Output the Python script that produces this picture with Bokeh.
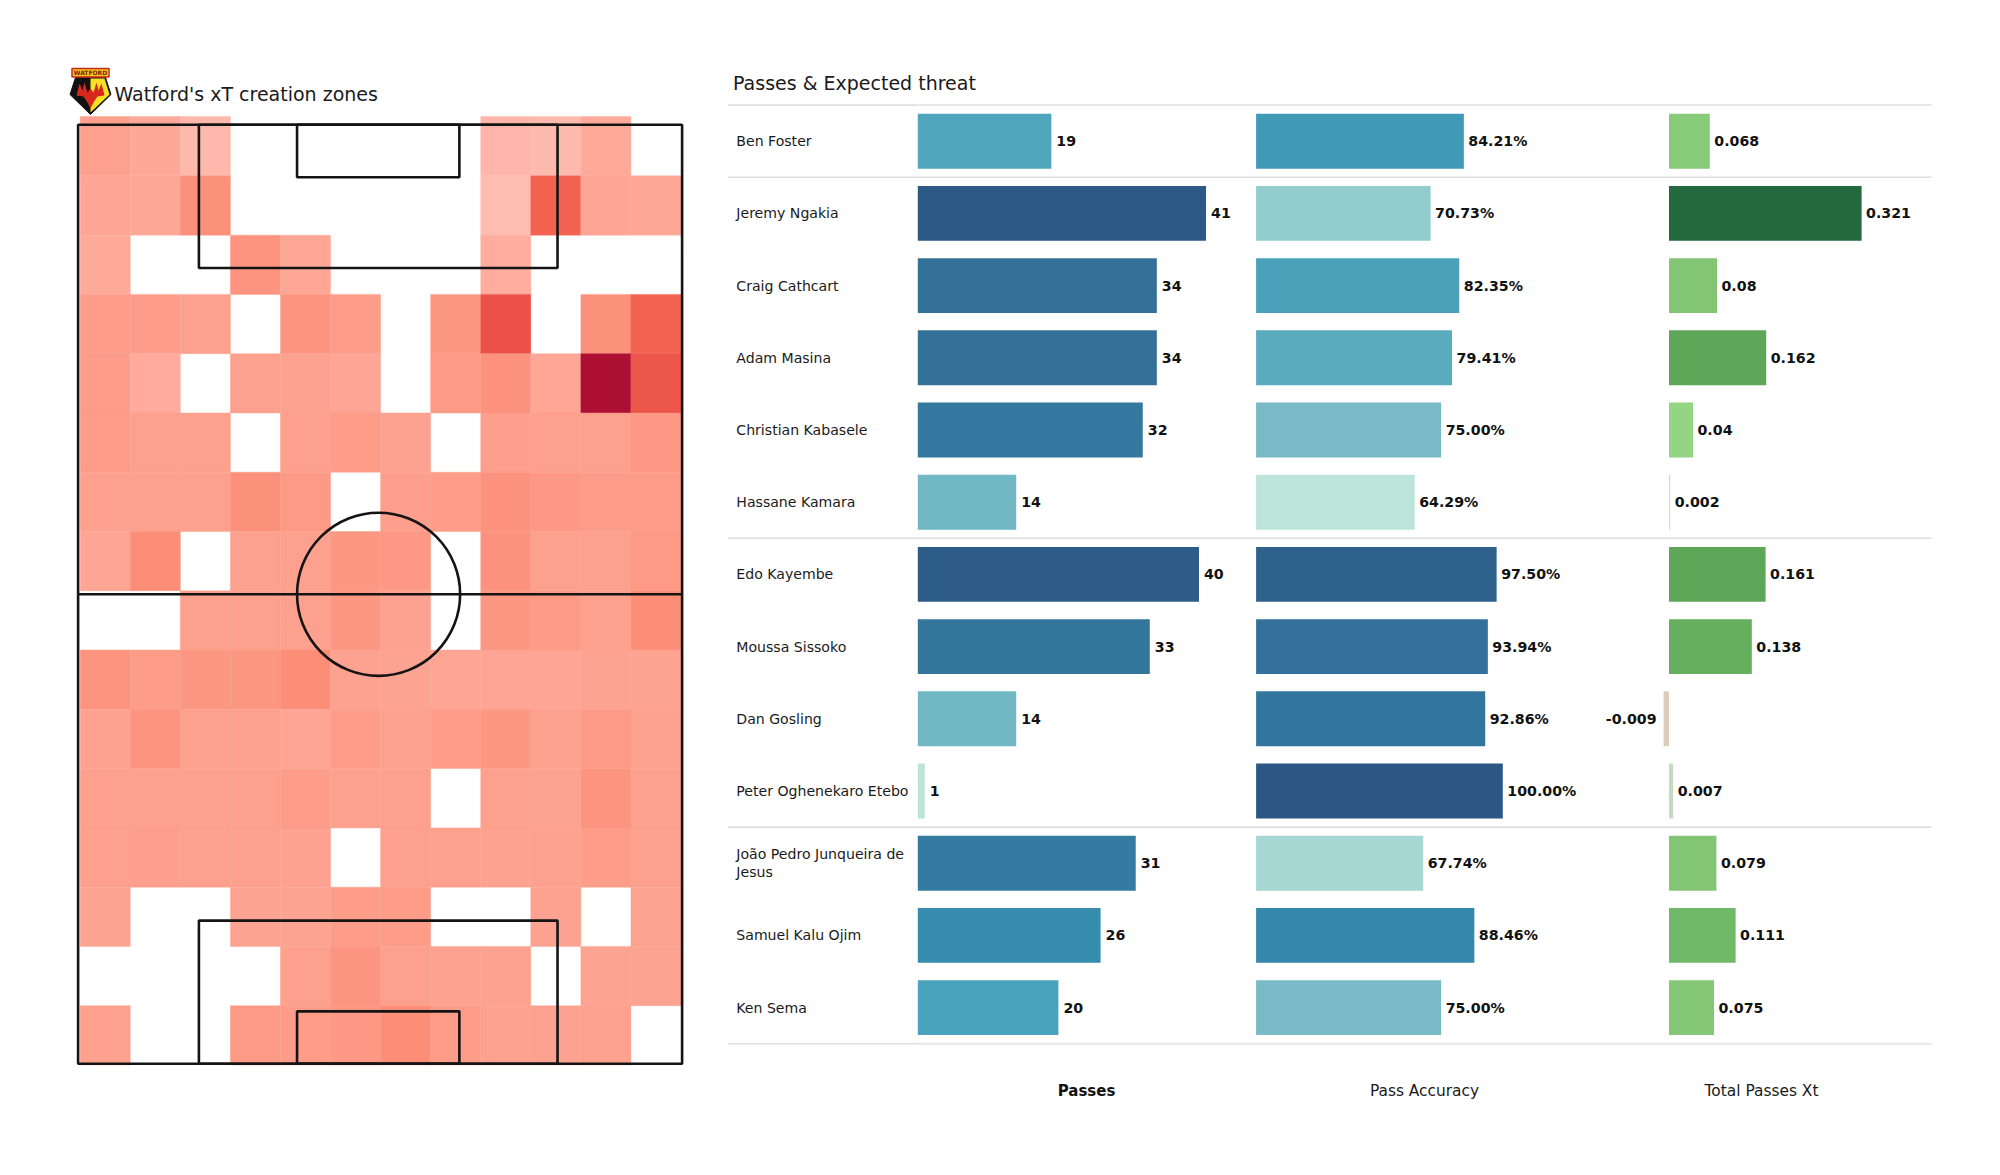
from bokeh.plotting import figure
from bokeh.models import Range1d, ColumnDataSource, LinearColorMapper
from bokeh.core.properties import value
from bokeh.embed import file_html
from bokeh.resources import INLINE
import numpy as np

# ---------------- data ----------------
players = ["Ben Foster", "Jeremy Ngakia", "Craig Cathcart", "Adam Masina", "Christian Kabasele",
           "Hassane Kamara", "Edo Kayembe", "Moussa Sissoko", "Dan Gosling", "Peter Oghenekaro Etebo",
           "João Pedro Junqueira de\nJesus", "Samuel Kalu Ojim", "Ken Sema"]
passes = [19, 41, 34, 34, 32, 14, 40, 33, 14, 1, 31, 26, 20]
accuracy = [84.21, 70.73, 82.35, 79.41, 75.00, 64.29, 97.50, 93.94, 92.86, 100.00, 67.74, 88.46, 75.00]
total_xt = [0.068, 0.321, 0.08, 0.162, 0.04, 0.002, 0.161, 0.138, -0.009, 0.007, 0.079, 0.111, 0.075]
xt_labels = ["0.068", "0.321", "0.08", "0.162", "0.04", "0.002", "0.161", "0.138", "-0.009", "0.007", "0.079", "0.111", "0.075"]
column_titles = ["Passes", "Pass Accuracy", "Total Passes Xt"]
n = None
heat = [
    [.20, .15, .05, n, n, n, n, n, .07, .04, .14, n],
    [.17, .15, .30, n, n, n, n, n, .02, .60, .17, .15],
    [.14, n, n, .28, .16, n, n, n, .12, n, n, n],
    [.22, .22, .20, n, .28, .23, n, .26, .70, n, .30, .60],
    [.22, .13, n, .20, .19, .17, n, .24, .29, .16, 1.0, .67],
    [.23, .20, .20, n, .20, .23, .19, n, .21, .20, .20, .25],
    [.20, .20, .20, .30, .24, n, .21, .22, .29, .25, .23, .23],
    [.17, .33, n, .20, .20, .26, .25, n, .29, .20, .20, .24],
    [n, n, .20, .20, .20, .26, .19, n, .26, .24, .20, .33],
    [.28, .22, .26, .26, .33, .19, .18, .17, .17, .17, .18, .18],
    [.19, .28, .20, .20, .17, .22, .20, .22, .26, .20, .24, .20],
    [.20, .20, .20, .20, .23, .20, .20, n, .20, .18, .28, .20],
    [.20, .21, .20, .20, .19, n, .20, .20, .19, .19, .22, .20],
    [.18, n, n, .18, .18, .22, .22, n, n, .19, n, .18],
    [n, n, n, n, .20, .27, .20, .19, .19, n, .18, .18],
    [.20, n, n, .24, .22, .25, .33, .22, .19, .19, .20, n],
]

# ---------------- colour scales ----------------
def ramp(anchors, size=256):
    xs = np.array([a[0] for a in anchors], dtype=float)
    cs = np.array([[int(a[1][i:i + 2], 16) for i in (1, 3, 5)] for a in anchors], dtype=float)
    t = np.linspace(xs[0], xs[-1], size)
    rgb = np.stack([np.interp(t, xs, cs[:, k]) for k in range(3)], axis=1)
    return ["#%02x%02x%02x" % tuple(int(round(v)) for v in c) for c in rgb]

heat_map = LinearColorMapper(low=0, high=1, palette=ramp([
    (0, "#ffc0b5"), (.15, "#fea899"), (.2, "#fda08d"), (.3, "#fc917b"), (.36, "#fb8a72"),
    (.62, "#f1604f"), (.72, "#ea4e48"), (1, "#ae0f35")]))
pass_map = LinearColorMapper(low=1, high=41, palette=ramp([
    (1, "#bde4da"), (14, "#72b7c4"), (20, "#4aa3bc"), (26, "#368dad"), (32, "#35789f"), (41, "#2d5986")]))
acc_map = LinearColorMapper(low=64.29, high=100, palette=ramp([
    (64.29, "#bde4da"), (70.73, "#93cccd"), (75, "#78bac5"), (79.41, "#5babbf"), (84.21, "#3f9ab6"),
    (88.46, "#3587ab"), (93.94, "#33719c"), (100, "#2c5784")]))
xt_map = LinearColorMapper(low=-.009, high=.321, palette=ramp([
    (-.009, "#dbcdb9"), (.002, "#d5dfd0"), (.007, "#c3dcc0"), (.04, "#93d582"), (.08, "#82c574"),
    (.111, "#70b968"), (.162, "#5ea658"), (.321, "#25693f")]))

# ---------------- page layout (window pixels) ----------------
L, R, T, B = 8, 1992, 8, 1167
FONT = value("DejaVu Sans")

def scale_range(zero_px, px_per_unit):
    return Range1d((L - zero_px) / px_per_unit, (R - zero_px) / px_per_unit)

def yscale_range(zero_px, px_per_unit):
    return Range1d((B - zero_px) / px_per_unit, (T - zero_px) / px_per_unit)

p = figure(width=R - L, height=B - T, x_range=Range1d(L, R), y_range=Range1d(B, T),
           output_backend="svg", toolbar_location=None, min_border=0,
           x_axis_location=None, y_axis_location=None, outline_line_color=None,
           background_fill_color="white", border_fill_color="white")
p.grid.visible = False

p.extra_x_ranges = {
    "passes": scale_range(925.3, 7.03),
    "acc": scale_range(1263.6, 2.467),
    "xt": scale_range(1676.5, 600),
    "pitch_x": scale_range(85.6, 7.55),
}
p.extra_y_ranges = {
    "rows": yscale_range(112.6, 72.2),
    "pitch_y": yscale_range(1071.3, -7.825),
}

# ---------------- heat map ----------------
hx0, hw = 0.28, (79.85 - 0.28) / 12
hy_top, hh = 121.05, 121.2 / 16
cell_x, cell_y, cell_v = [], [], []
for r, row in enumerate(heat):
    for c, v in enumerate(row):
        if v is not None:
            cell_x.append(hx0 + (c + .5) * hw)
            cell_y.append(hy_top - (r + .5) * hh)
            cell_v.append(v)
heat_src = ColumnDataSource(dict(x=cell_x, y=cell_y, v=cell_v))
p.rect("x", "y", width=hw, height=hh, source=heat_src, x_range_name="pitch_x", y_range_name="pitch_y",
       fill_color={"field": "v", "transform": heat_map},
       line_color={"field": "v", "transform": heat_map}, line_width=.4)

# ---------------- pitch lines ----------------
pl = dict(x_range_name="pitch_x", y_range_name="pitch_y", line_color="#141414", line_width=2.6, fill_color=None)
p.quad(left=[0, 16, 16, 29, 29], right=[80, 63.5, 63.5, 50.5, 50.5],
       bottom=[0, 101.7, 0, 113.3, 0], top=[120, 120, 18.3, 120, 6.7], **pl)
p.segment(x0=[0], x1=[80], y0=[60], y1=[60], x_range_name="pitch_x", y_range_name="pitch_y",
          line_color="#141414", line_width=2.6)
p.ellipse(x=[39.8], y=[60], width=[21.6], height=[20.85], **pl)

# ---------------- separators ----------------
p.segment(x0=[735.5] * 5, x1=[1939] * 5, y0=[0, 1, 6, 10, 13], y1=[0, 1, 6, 10, 13],
          y_range_name="rows", line_color="#dedede", line_width=1.6)
p.segment(x0=[924, 924], x1=[1939, 1939], y0=[0, 13], y1=[0, 13],
          y_range_name="rows", line_color="#e8e8e8", line_width=1.8)

# ---------------- bars ----------------
rows = [i + .5 for i in range(len(players))]
src = ColumnDataSource(dict(y=rows, name=players, passes=passes, accuracy=accuracy, xt=total_xt,
                            pass_txt=[str(v) for v in passes],
                            acc_txt=["%.2f%%" % v for v in accuracy], xt_txt=xt_labels))
for rng, field, cmap in (("passes", "passes", pass_map), ("acc", "accuracy", acc_map), ("xt", "xt", xt_map)):
    p.hbar(y="y", left=0, right=field, height=.76, source=src, x_range_name=rng, y_range_name="rows",
           fill_color={"field": field, "transform": cmap}, line_color=None)

txt = dict(text_font=FONT, text_color="#111111", text_baseline="middle", text_font_size="14.2px",
           text_font_style="bold", y_range_name="rows")
p.text(x="passes", y="y", text="pass_txt", source=src, x_range_name="passes", x_offset=5, **txt)
p.text(x="accuracy", y="y", text="acc_txt", source=src, x_range_name="acc", x_offset=4.5, **txt)
pos = [i for i, v in enumerate(total_xt) if v >= 0]
neg = [i for i, v in enumerate(total_xt) if v < 0]
p.text(x=[total_xt[i] for i in pos], y=[rows[i] for i in pos], text=[xt_labels[i] for i in pos],
       x_range_name="xt", x_offset=4.5, **txt)
p.text(x=[total_xt[i] for i in neg], y=[rows[i] for i in neg], text=[xt_labels[i] for i in neg],
       x_range_name="xt", x_offset=-7, text_align="right", **txt)

# ---------------- names and titles ----------------
p.text(x=743.8, y="y", text="name", source=src, y_range_name="rows", text_font=FONT,
       text_color="#1a1a1a", text_baseline="middle", text_font_size="14.1px", text_line_height=1.1)
p.text(x=[740.5], y=[90], text=["Passes & Expected threat"], text_font=FONT, text_color="#1a1a1a",
       text_baseline="middle", text_font_size="19px")
p.text(x=[122], y=[101.7], text=["Watford's xT creation zones"], text_font=FONT, text_color="#1a1a1a",
       text_baseline="middle", text_font_size="19px")
p.text(x=[1094], y=[1098.8], text=column_titles[:1], text_font=FONT, text_color="#111111",
       text_align="center", text_baseline="middle", text_font_size="15px", text_font_style="bold")
p.text(x=[1432, 1769], y=[1098.8] * 2, text=column_titles[1:], text_font=FONT, text_color="#1a1a1a",
       text_align="center", text_baseline="middle", text_font_size="15.4px")

# ---------------- club badge ----------------
p.patch(x=[77.5, 83, 113, 118.5, 98], y=[102, 85, 85, 102, 122], fill_color="#111111", line_color="#111111", line_width=1)
p.patch(x=[98, 112, 117, 98], y=[86, 86, 102, 120], fill_color="#f8e024", line_color=None)
p.patch(x=[84, 87, 90, 92, 95, 98, 101, 104, 106, 109, 112, 105, 101, 98, 95, 91],
        y=[103, 91, 98, 90, 100, 96, 100, 90, 98, 91, 103, 104, 110, 116, 110, 104],
        fill_color="#d8281e", line_color=None)
p.quad(left=[79.5], right=[116.5], top=[76], bottom=[84.5], fill_color="#f5c518", line_color="#c8281e", line_width=1.5)
p.text(x=[98], y=[80.3], text=["WATFORD"], text_font=FONT, text_color="#7a1a10", text_align="center",
       text_baseline="middle", text_font_size="6px", text_font_style="bold")

open("out.html", "w").write(file_html(p, INLINE))
